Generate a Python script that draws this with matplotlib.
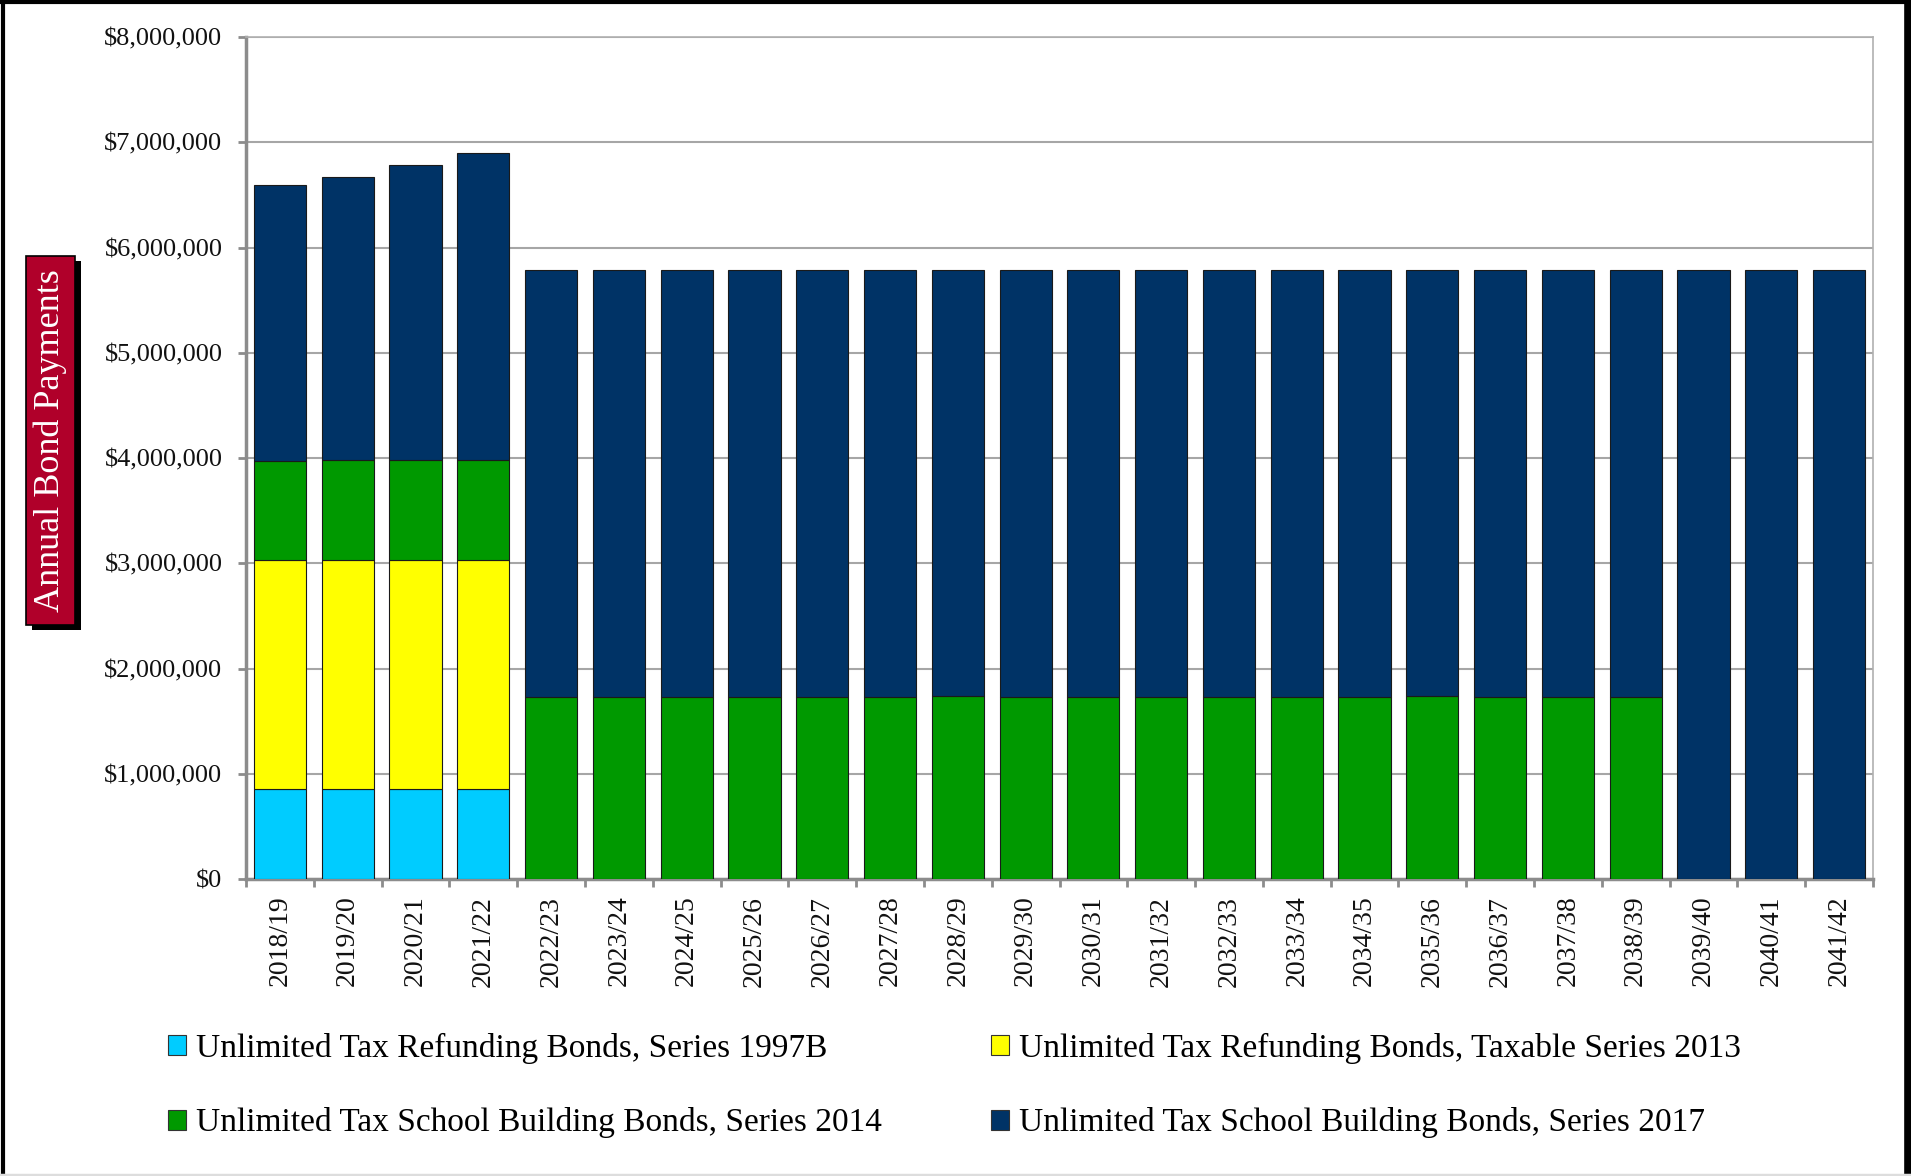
import matplotlib.pyplot as plt
import numpy as np
from matplotlib.patches import Patch, Rectangle
from matplotlib.lines import Line2D
from matplotlib.ticker import FuncFormatter, MultipleLocator

W, H = 1911, 1176

years = [
    "2018/19", "2019/20", "2020/21", "2021/22", "2022/23", "2023/24",
    "2024/25", "2025/26", "2026/27", "2027/28", "2028/29", "2029/30",
    "2030/31", "2031/32", "2032/33", "2033/34", "2034/35", "2035/36",
    "2036/37", "2037/38", "2038/39", "2039/40", "2040/41", "2041/42",
]

series_1997b = [852000, 852000, 852000, 852000, 0, 0, 0, 0, 0, 0, 0, 0,
                0, 0, 0, 0, 0, 0, 0, 0, 0, 0, 0, 0]
series_2013 = [2175000, 2183000, 2183000, 2183000, 0, 0, 0, 0, 0, 0, 0, 0,
               0, 0, 0, 0, 0, 0, 0, 0, 0, 0, 0, 0]
series_2014 = [948000, 950000, 950000, 950000, 1725000, 1725000, 1725000,
               1725000, 1725000, 1725000, 1735000, 1725000, 1725000, 1728000,
               1728000, 1725000, 1725000, 1735000, 1725000, 1725000, 1725000,
               0, 0, 0]
series_2017 = [2615000, 2685000, 2800000, 2915000, 4065000, 4065000, 4065000,
               4065000, 4065000, 4065000, 4055000, 4065000, 4065000, 4062000,
               4062000, 4065000, 4065000, 4055000, 4063000, 4065000, 4065000,
               5790000, 5790000, 5785000]

labels = [
    "Unlimited Tax Refunding Bonds, Series 1997B",
    "Unlimited Tax Refunding Bonds, Taxable Series 2013",
    "Unlimited Tax School Building Bonds, Series 2014",
    "Unlimited Tax School Building Bonds, Series 2017",
]
colors = ["#00CCFF", "#FFFF00", "#009900", "#003366"]

plt.rcParams["font.family"] = ["Liberation Serif", "DejaVu Serif"]


def fx(px):
    return px / W


def fy(py):
    return 1 - py / H


fig = plt.figure(figsize=(W / 100, H / 100), dpi=100)
ax = fig.add_axes([fx(246), fy(879), fx(1873) - fx(246), fy(37) - fy(879)])

x = np.arange(len(years))
bottom = np.zeros(len(years))
for vals, color in zip([series_1997b, series_2013, series_2014, series_2017], colors):
    vals = np.array(vals, dtype=float)
    ax.bar(x, vals, width=0.77, bottom=bottom, color=color,
           edgecolor="#1a1a1a", linewidth=0.8, zorder=3)
    bottom += vals

ax.set_xlim(-0.5, len(years) - 0.5)
ax.set_ylim(0, 8000000)
ax.yaxis.set_major_locator(MultipleLocator(1000000))
ax.yaxis.set_major_formatter(FuncFormatter(lambda v, _: f"${v:,.0f}"))
ax.grid(axis="y", color="#a6a6a6", linewidth=1.5, zorder=0)

ax.set_xticks(x, years, rotation=90, fontsize=20)
ax.set_xticks(np.arange(-0.5, len(years), 1), minor=True)
ax.tick_params(axis="x", which="major", length=0, pad=12, colors="#111111")
ax.tick_params(axis="x", which="minor", length=6, width=2, color="#8c8c8c")
ax.tick_params(axis="y", length=6, width=2, color="#8c8c8c", pad=11,
               labelsize=19, labelcolor="#111111")

for side in ["left", "bottom"]:
    ax.spines[side].set_color("#8c8c8c")
    ax.spines[side].set_linewidth(2.5)
for side in ["top", "right"]:
    ax.spines[side].set_color("#b0b0b0")
    ax.spines[side].set_linewidth(1.2)

# y-axis title box with shadow
fig.add_artist(Rectangle((fx(32), fy(630)), fx(81) - fx(32), fy(261) - fy(630),
                         transform=fig.transFigure, facecolor="black",
                         edgecolor="none"))
fig.add_artist(Rectangle((fx(26), fy(625)), fx(75) - fx(26), fy(256) - fy(625),
                         transform=fig.transFigure, facecolor="#B0002A",
                         edgecolor="black", linewidth=1.2))
fig.text(fx(50), fy(441), "Annual Bond Payments", rotation=90, color="white",
         fontsize=26, ha="center", va="center")

# legends, two columns placed by hand
handles = [Patch(facecolor=c, edgecolor="#333333", linewidth=0.8) for c in colors]
leg_kw = dict(frameon=False, fontsize=24, handlelength=0.55, handleheight=0.55,
              handletextpad=0.3, labelspacing=1.3, loc="upper left",
              borderaxespad=0, borderpad=0)
fig.legend([handles[0], handles[2]], [labels[0], labels[2]],
           bbox_to_anchor=(fx(168), fy(1033)), **leg_kw)
fig.legend([handles[1], handles[3]], [labels[1], labels[3]],
           bbox_to_anchor=(fx(991), fy(1033)), **leg_kw)

# outer frame
fig.add_artist(Line2D([fx(3), fx(3)], [0, 1], color="black", linewidth=3,
                      transform=fig.transFigure))
fig.add_artist(Line2D([0, 1], [fy(2), fy(2)], color="black", linewidth=3,
                      transform=fig.transFigure))
fig.add_artist(Line2D([fx(1907.5), fx(1907.5)], [0, 1], color="black",
                      linewidth=5.5, transform=fig.transFigure))
fig.add_artist(Line2D([0, 1], [fy(1174.5), fy(1174.5)], color="#dddddd",
                      linewidth=2.5, transform=fig.transFigure))

fig.savefig("out.png", dpi=100)
